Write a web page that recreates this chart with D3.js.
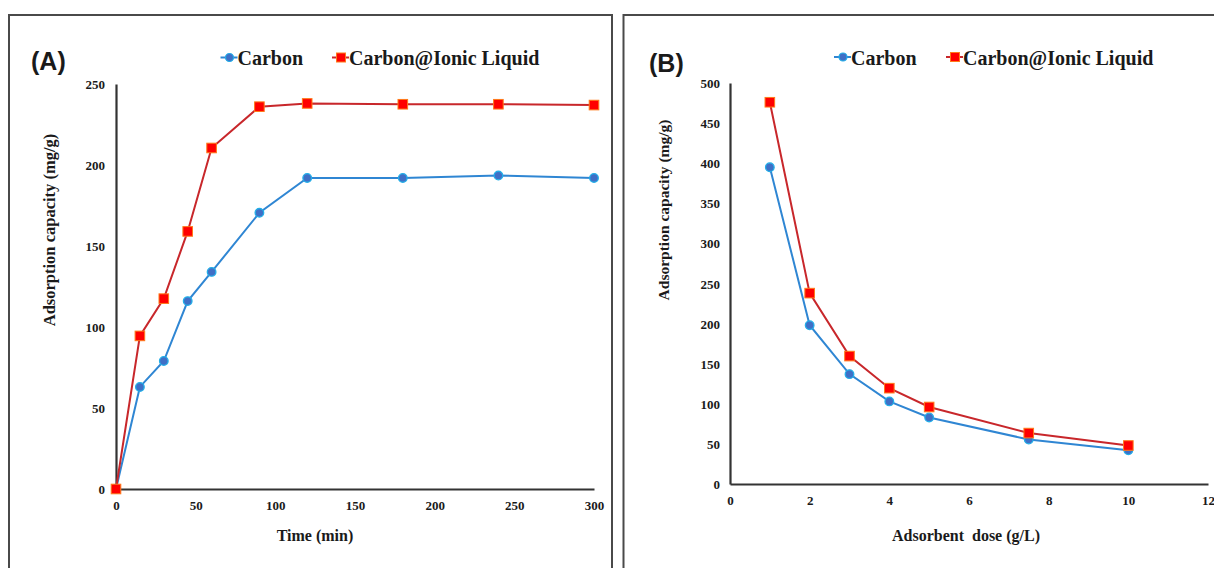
<!DOCTYPE html>
<html><head><meta charset="utf-8">
<script src="https://cdn.jsdelivr.net/npm/d3@7"></script>
<style>
html,body{margin:0;padding:0;background:#fff;}
svg{display:block;}
text{font-family:"Liberation Serif","Times New Roman",serif;font-weight:bold;fill:#1a1a1a;}
.panel{font-family:"Liberation Sans",Arial,sans-serif;font-weight:bold;}
</style></head>
<body>
<svg id="c" width="1214" height="568"></svg>
<script>
// ---- data ----
const seriesNames = ["Carbon", "Carbon@Ionic Liquid"];
const timeMin = [0, 15, 30, 45, 60, 90, 120, 180, 240, 300];
const carbonTime = [0, 63, 79, 116, 134, 170.5, 192, 192, 193.5, 192];
const ionicTime = [0, 94.5, 117.5, 159, 210.5, 236, 238, 237.5, 237.5, 237];
const doseGL = [1, 2, 3, 4, 5, 7.5, 10];
const carbonDose = [395, 198, 137, 103, 83, 55.5, 42];
const ionicDose = [476, 238, 159.5, 119.5, 96, 63.5, 48];
const xTicksA = [0, 50, 100, 150, 200, 250, 300];
const yTicksA = [0, 50, 100, 150, 200, 250];
const xTicksB = [0, 2, 4, 6, 8, 10, 12];
const yTicksB = [0, 50, 100, 150, 200, 250, 300, 350, 400, 450, 500];

const svg = d3.select("#c");
const blueLine = "#2F86D3", blueFill = "#3F6FC6", blueStroke = "#22AEE8";
const redLine = "#C8272B", redFill = "#FF0000", redStroke = "#FF7A1A";

function panel(o) {
  const g = svg.append("g");
  // frame
  g.append("rect").attr("x", o.fx).attr("y", 15).attr("width", o.fw).attr("height", 600)
    .attr("fill", "none").attr("stroke", "#4a4a4a").attr("stroke-width", 2);
  const x = d3.scaleLinear().domain(o.xDom).range([o.x0, o.x1]);
  const y = d3.scaleLinear().domain(o.yDom).range([o.y0, o.y1]);
  // axes
  const xa = g.append("g").attr("transform", `translate(0,${o.y0})`)
    .call(d3.axisBottom(x).tickValues(o.xTicks).tickSize(0).tickPadding(0).tickFormat(d3.format("d")));
  xa.select(".domain").attr("stroke", "#333").attr("stroke-width", 2.2);
  xa.selectAll("text").attr("font-size", 13).attr("dy", null).attr("y", 21).attr("fill", "#1a1a1a")
    .attr("font-family", null);
  const ya = g.append("g").attr("transform", `translate(${o.x0},0)`)
    .call(d3.axisLeft(y).tickValues(o.yTicks).tickSize(0).tickPadding(0).tickFormat(d3.format("d")));
  ya.select(".domain").attr("stroke", "#333").attr("stroke-width", 2.2);
  ya.selectAll("text").attr("font-size", 13).attr("x", -o.ypad).attr("dy", "0.35em").attr("fill", "#1a1a1a")
    .attr("font-family", null);
  xa.attr("font-family", null); ya.attr("font-family", null);
  // titles
  g.append("text").attr("x", o.xtx).attr("y", 541).attr("text-anchor", "middle")
    .attr("font-size", 16).style("white-space", "pre").text(o.xTitle);
  g.append("text").attr("transform", `translate(${o.ytx},${o.yty}) rotate(-90)`)
    .attr("text-anchor", "middle").attr("font-size", o.ytfs).text("Adsorption capacity (mg/g)");
  g.append("text").attr("class", "panel").attr("x", o.px).attr("y", o.py).attr("font-size", 25).text(o.label);
  // series
  const line = d3.line().x((d, i) => x(o.xs[i])).y(d => y(d));
  g.append("path").datum(o.c).attr("d", line).attr("fill", "none").attr("stroke", blueLine).attr("stroke-width", 2);
  g.append("path").datum(o.r).attr("d", line).attr("fill", "none").attr("stroke", redLine).attr("stroke-width", 2);
  g.selectAll(".cm").data(o.c).enter().append("circle")
    .attr("cx", (d, i) => x(o.xs[i])).attr("cy", d => y(d)).attr("r", 4.3)
    .attr("fill", blueFill).attr("stroke", blueStroke).attr("stroke-width", 1.3);
  g.selectAll(".rm").data(o.r).enter().append("rect")
    .attr("x", (d, i) => x(o.xs[i]) - 4.8).attr("y", d => y(d) - 4.8).attr("width", 9.6).attr("height", 9.6)
    .attr("fill", redFill).attr("stroke", redStroke).attr("stroke-width", 1);
  // legend
  const ly = o.ly;
  g.append("line").attr("x1", o.lx1 - 9).attr("x2", o.lx1 + 8).attr("y1", ly).attr("y2", ly)
    .attr("stroke", blueLine).attr("stroke-width", 2);
  g.append("circle").attr("cx", o.lx1).attr("cy", ly).attr("r", 4)
    .attr("fill", blueFill).attr("stroke", blueStroke).attr("stroke-width", 1.2);
  g.append("text").attr("x", o.lx1 + 8).attr("y", ly + 7.5).attr("font-size", 20).text(seriesNames[0]);
  g.append("line").attr("x1", o.lx2 - 9).attr("x2", o.lx2 + 8).attr("y1", ly).attr("y2", ly)
    .attr("stroke", redLine).attr("stroke-width", 2);
  g.append("rect").attr("x", o.lx2 - 4.5).attr("y", ly - 4.5).attr("width", 9).attr("height", 9)
    .attr("fill", redFill).attr("stroke", redStroke).attr("stroke-width", 1);
  g.append("text").attr("x", o.lx2 + 8).attr("y", ly + 7.5).attr("font-size", 20).text(seriesNames[1]);
}

panel({
  fx: 9, fw: 603, xDom: [0, 300], yDom: [0, 250], x0: 116, x1: 594, y0: 489, y1: 84,
  xTicks: xTicksA, yTicks: yTicksA, ypad: 11,
  xTitle: "Time (min)", xtx: 315, ytx: 55, yty: 230, ytfs: 16.5,
  label: "(A)", px: 31, py: 70,
  xs: timeMin, c: carbonTime, r: ionicTime,
  ly: 57.5, lx1: 229.5, lx2: 341
});
panel({
  fx: 623.5, fw: 620, xDom: [0, 12], yDom: [0, 500], x0: 730, x1: 1208, y0: 484, y1: 83,
  xTicks: xTicksB, yTicks: yTicksB, ypad: 10,
  xTitle: "Adsorbent  dose (g/L)", xtx: 966, ytx: 669, yty: 210, ytfs: 15.5,
  label: "(B)", px: 649, py: 72,
  xs: doseGL, c: carbonDose, r: ionicDose,
  ly: 57, lx1: 843, lx2: 955
});
</script>
</body></html>
